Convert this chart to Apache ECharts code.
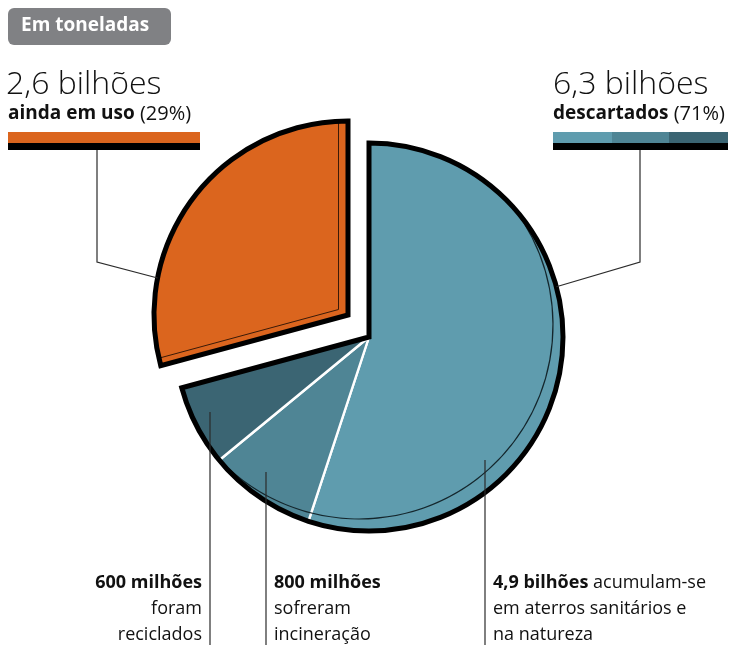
<!DOCTYPE html>
<html>
<head>
<meta charset="utf-8">
<script src="https://cdn.jsdelivr.net/npm/echarts@6/dist/echarts.min.js"></script>
<style>
html,body{margin:0;padding:0;background:#fff;}
#chart{width:730px;height:645px;}
</style>
</head>
<body>
<div id="chart"></div>
<script>
// ---- data (bilhões de toneladas) ----
const sliceNames  = ['Aterros sanitários e natureza', 'Incineração', 'Reciclados', 'Ainda em uso'];
const sliceValues = [4.9, 0.8, 0.6, 2.6];
const sliceColors = ['#5f9cae', '#4f8595', '#3b6573', '#db651e'];
const headerText  = 'Em toneladas';
const leftBig     = '2,6 bilhões';
const leftSmallB  = 'ainda em uso';
const leftSmallR  = '(29%)';
const rightBig    = '6,3 bilhões';
const rightSmallB = 'descartados';
const rightSmallR = '(71%)';
const noteRecycled = ['600 milhões', 'foram', 'reciclados'];
const noteIncin    = ['800 milhões', 'sofreram', 'incineração'];
const noteLandfill = ['4,9 bilhões', 'acumulam-se', 'em aterros sanitários e', 'na natureza'];

// ---- layout / style ----
const FONT_FAMILY = '"Open Sans", "Noto Sans", sans-serif';
const R = 194;
const BC = [369, 337];           // centre of the discarded (blue) part
const OC = [348, 315];           // centre of the exploded (orange) slice
const BLUE_SHIFT = [-10, -12];   // depth outline offset
const ORANGE_SHIFT = [-9.5, -5.5];
const BORDER = 5;

const blueTotal = sliceValues[0] + sliceValues[1] + sliceValues[2];

function arcPoint(c, r, deg) {
  const a = deg * Math.PI / 180;
  return [c[0] + r * Math.cos(a), c[1] - r * Math.sin(a)];
}

const base = {
  type: 'pie', silent: true, animation: false, startAngle: 90, clockwise: true,
  label: { show: false }, labelLine: { show: false }, emphasis: { disabled: true },
  avoidLabelOverlap: false, radius: R
};
const hidden = { color: 'transparent', borderWidth: 0 };

// depth outline arc inside the blue part (part of shifted circle lying inside main circle)
const d = Math.hypot(BLUE_SHIFT[0], BLUE_SHIFT[1]);
const halfSpan = Math.acos((d / 2) / R) * 180 / Math.PI;
const towardMain = Math.atan2(BLUE_SHIFT[1], -BLUE_SHIFT[0]) * 180 / Math.PI;
const ringStart = towardMain + halfSpan;
const ringSpan = 2 * halfSpan;

const series = [
  Object.assign({}, base, {
    z: 1, center: BC,
    data: sliceValues.map((v, i) => ({
      name: sliceNames[i], value: v,
      itemStyle: i < 3 ? { color: sliceColors[i], borderColor: '#ffffff', borderWidth: 2.4 } : hidden
    }))
  }),
  Object.assign({}, base, {
    z: 2, center: [BC[0] + BLUE_SHIFT[0], BC[1] + BLUE_SHIFT[1]],
    radius: [R - 0.6, R + 0.6], startAngle: ringStart,
    data: [
      { value: ringSpan, itemStyle: { color: '#14262c', borderWidth: 0 } },
      { value: 360 - ringSpan, itemStyle: hidden }
    ]
  }),
  Object.assign({}, base, {
    z: 3, center: BC,
    data: [
      { value: blueTotal, itemStyle: { color: 'transparent', borderColor: '#000', borderWidth: BORDER, borderJoin: 'miter' } },
      { value: sliceValues[3], itemStyle: hidden }
    ]
  }),
  Object.assign({}, base, {
    z: 4, center: OC,
    data: sliceValues.map((v, i) => ({
      name: sliceNames[i], value: v,
      itemStyle: i === 3 ? { color: sliceColors[3], borderWidth: 0 } : hidden
    }))
  }),
  Object.assign({}, base, {
    z: 5, center: [OC[0] + ORANGE_SHIFT[0], OC[1] + ORANGE_SHIFT[1]],
    data: sliceValues.map((v, i) => ({
      value: v,
      itemStyle: i === 3 ? { color: 'transparent', borderColor: '#3a1a08', borderWidth: 1 } : hidden
    }))
  }),
  Object.assign({}, base, {
    z: 6, center: OC, radius: [R + BORDER / 2 - 0.5, R + 24],
    data: sliceValues.map((v, i) => ({
      value: v,
      itemStyle: i === 3 ? { color: '#ffffff', borderWidth: 0 } : hidden
    }))
  }),
  Object.assign({}, base, {
    z: 7, center: OC,
    data: sliceValues.map((v, i) => ({
      value: v,
      itemStyle: i === 3 ? { color: 'transparent', borderColor: '#000', borderWidth: BORDER, borderJoin: 'miter' } : hidden
    }))
  })
];

const pOrange = arcPoint(OC, R, 169);
const pBlueR  = arcPoint(BC, R, 15);
const LINE = { stroke: '#2b2b2b', lineWidth: 1.2 };

const textStyle = (t, x, y, size, weight, align, extra) => Object.assign({
  text: t, x: x, y: y, fill: '#111', align: align || 'left', verticalAlign: 'middle',
  fontSize: size, fontWeight: weight || 'normal', fontFamily: FONT_FAMILY
}, extra || {});

const SUB = 19, NOTE = 18;
const mkRich = (size, rsize) => ({
  b: { fontSize: size, fontWeight: 'bold', fontFamily: FONT_FAMILY, fill: '#111' },
  r: { fontSize: rsize, fontWeight: 'normal', fontFamily: FONT_FAMILY, fill: '#111' }
});
const richText = (b, r, x, y, size, rsize) => ({
  text: '{b|' + b + '}{r| ' + r + '}', x: x, y: y, verticalAlign: 'middle',
  fontSize: size, fontFamily: FONT_FAMILY, fill: '#111', rich: mkRich(size, rsize || size)
});

const graphic = [
  { type: 'rect', z: 100, shape: { x: 8, y: 8, width: 163, height: 37, r: 6 }, style: { fill: '#808184' } },
  { type: 'text', z: 101, style: textStyle(headerText, 21, 26, 19, 'bold', 'left', { fill: '#fff' }) },

  { type: 'text', z: 101, style: textStyle(leftBig, 6, 85, 32, '300') },
  { type: 'text', z: 101, style: richText(leftSmallB, leftSmallR, 8, 114, SUB, 20) },
  { type: 'rect', z: 100, shape: { x: 8, y: 132, width: 192, height: 11 }, style: { fill: sliceColors[3] } },
  { type: 'rect', z: 100, shape: { x: 8, y: 143, width: 192, height: 7 }, style: { fill: '#000' } },

  { type: 'text', z: 101, style: textStyle(rightBig, 553, 85, 32, '300') },
  { type: 'text', z: 101, style: richText(rightSmallB, rightSmallR, 553, 114, SUB, 20) },
  { type: 'rect', z: 100, shape: { x: 553, y: 132, width: 59, height: 11 }, style: { fill: sliceColors[0] } },
  { type: 'rect', z: 100, shape: { x: 612, y: 132, width: 57, height: 11 }, style: { fill: sliceColors[1] } },
  { type: 'rect', z: 100, shape: { x: 669, y: 132, width: 59, height: 11 }, style: { fill: sliceColors[2] } },
  { type: 'rect', z: 100, shape: { x: 553, y: 143, width: 175, height: 7 }, style: { fill: '#000' } },

  { type: 'polyline', z: 100, shape: { points: [[97, 150], [97, 262], pOrange] }, style: Object.assign({ fill: null }, LINE) },
  { type: 'polyline', z: 100, shape: { points: [[640, 150], [640, 262], pBlueR] }, style: Object.assign({ fill: null }, LINE) },
  { type: 'line', z: 100, shape: { x1: 210, y1: 412, x2: 210, y2: 645 }, style: LINE },
  { type: 'line', z: 100, shape: { x1: 266, y1: 472, x2: 266, y2: 645 }, style: LINE },
  { type: 'line', z: 100, shape: { x1: 485, y1: 460, x2: 485, y2: 645 }, style: LINE },

  { type: 'text', z: 101, style: textStyle(noteRecycled[0], 202, 583, NOTE, 'bold', 'right') },
  { type: 'text', z: 101, style: textStyle(noteRecycled[1], 202, 609, NOTE, 'normal', 'right') },
  { type: 'text', z: 101, style: textStyle(noteRecycled[2], 202, 635, NOTE, 'normal', 'right') },

  { type: 'text', z: 101, style: textStyle(noteIncin[0], 274, 583, NOTE, 'bold') },
  { type: 'text', z: 101, style: textStyle(noteIncin[1], 274, 609, NOTE, 'normal') },
  { type: 'text', z: 101, style: textStyle(noteIncin[2], 274, 635, NOTE, 'normal') },

  { type: 'text', z: 101, style: richText(noteLandfill[0], noteLandfill[1], 493, 583, NOTE) },
  { type: 'text', z: 101, style: textStyle(noteLandfill[2], 493, 609, NOTE, 'normal') },
  { type: 'text', z: 101, style: textStyle(noteLandfill[3], 493, 635, NOTE, 'normal') }
];

const chart = echarts.init(document.getElementById('chart'), null, { renderer: 'canvas' });
chart.setOption({ animation: false, backgroundColor: '#fff', series: series, graphic: graphic });
</script>
</body>
</html>
